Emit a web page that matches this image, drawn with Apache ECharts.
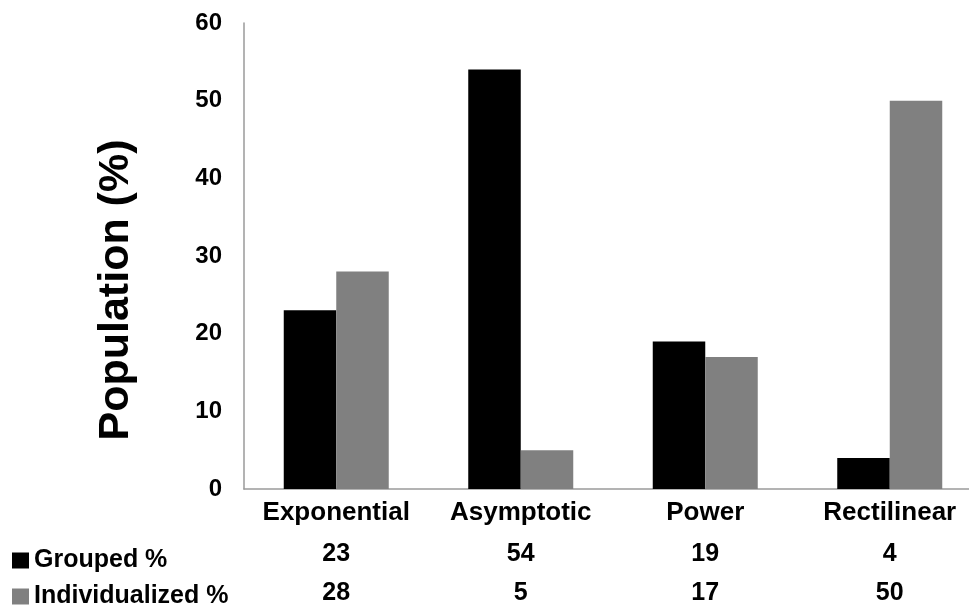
<!DOCTYPE html>
<html>
<head>
<meta charset="utf-8">
<style>
  html, body { margin: 0; padding: 0; background: #fff; overflow: hidden; }
  /* the plot runs slightly past the right edge of the window */
  #chart { width: 982px; height: 606px; }
</style>
<script src="https://cdn.jsdelivr.net/npm/echarts@6/dist/echarts.min.js"></script>
</head>
<body>
<div id="chart"></div>
<script>
// Growth-model categories and the share of the population fitted by each
const categories = ['Exponential', 'Asymptotic', 'Power', 'Rectilinear'];
const groupedPct = [23, 54, 19, 4];
const individualizedPct = [28, 5, 17, 50];
const seriesNames = ['Grouped %', 'Individualized %'];
const yTicks = [0, 10, 20, 30, 40, 50, 60];

const FONT = '"Liberation Sans", Arial, sans-serif';
const BLACK = '#000000';
const GREY = '#808080';
const AXIS = '#9a9a9a';

const chart = echarts.init(document.getElementById('chart'), null, { renderer: 'canvas' });

// Extra bottom axes act as the data table rows under the categories
function tableAxis(values, offset) {
  return {
    type: 'category',
    data: categories,
    position: 'bottom',
    offset: offset,
    axisLine: { show: false },
    axisTick: { show: false },
    axisLabel: {
      interval: 0,
      margin: 12,
      fontFamily: FONT,
      fontWeight: 'bold',
      fontSize: 25,
      color: BLACK,
      formatter: (v, i) => String(values[i])
    }
  };
}

// One legend per table row so each key sits beside its own row
function rowLegend(name, top) {
  return {
    orient: 'horizontal',
    left: 7,
    top: top,
    itemWidth: 17,
    itemHeight: 16,
    icon: 'rect',
    data: [name],
    selectedMode: false,
    textStyle: { fontFamily: FONT, fontWeight: 'bold', fontSize: 25, color: BLACK }
  };
}

chart.setOption({
  backgroundColor: '#ffffff',
  animation: false,
  grid: { left: 244, top: 23, right: 0, bottom: 113 },
  legend: [rowLegend(seriesNames[0], 543), rowLegend(seriesNames[1], 579)],
  xAxis: [
    {
      type: 'category',
      data: categories,
      position: 'bottom',
      axisLine: { show: true, lineStyle: { color: AXIS, width: 1.5 } },
      axisTick: { show: false },
      axisLabel: {
        interval: 0,
        margin: 11,
        fontFamily: FONT,
        fontWeight: 'bold',
        fontSize: 26,
        color: BLACK
      }
    },
    tableAxis(groupedPct, 41),
    tableAxis(individualizedPct, 80)
  ],
  yAxis: {
    type: 'value',
    min: yTicks[0],
    max: yTicks[yTicks.length - 1],
    interval: 10,
    axisLine: { show: true, lineStyle: { color: AXIS, width: 1.5 } },
    axisTick: { show: false },
    splitLine: { show: false },
    axisLabel: {
      margin: 22,
      fontFamily: FONT,
      fontWeight: 'bold',
      fontSize: 24,
      color: BLACK
    }
  },
  graphic: [
    {
      type: 'text',
      x: 116,
      y: 290,
      rotation: Math.PI / 2,
      style: {
        text: 'Population (%)',
        font: 'bold 43px ' + FONT,
        fill: BLACK,
        align: 'center',
        verticalAlign: 'middle'
      }
    }
  ],
  series: [
    {
      name: seriesNames[0],
      type: 'bar',
      data: groupedPct,
      barWidth: 52.5,
      barGap: '0%',
      itemStyle: { color: BLACK }
    },
    {
      name: seriesNames[1],
      type: 'bar',
      data: individualizedPct,
      barWidth: 52.5,
      barGap: '0%',
      itemStyle: { color: GREY }
    }
  ]
});
</script>
</body>
</html>
